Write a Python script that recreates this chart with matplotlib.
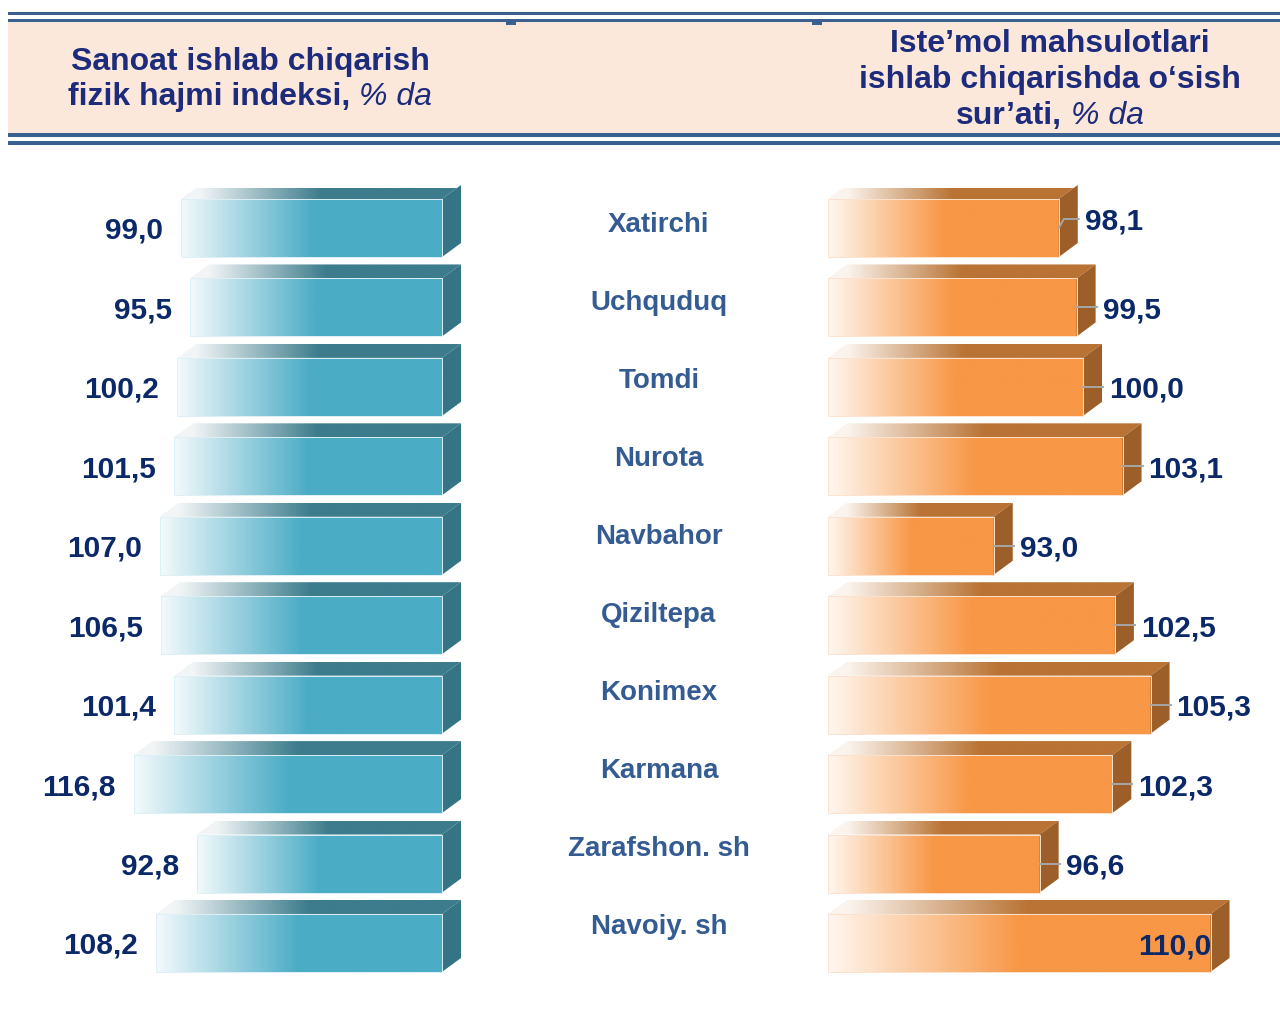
import numpy as np
import matplotlib
matplotlib.use("Agg")
import matplotlib.pyplot as plt
from matplotlib.transforms import IdentityTransform
from matplotlib.patches import Polygon, Rectangle
from matplotlib.colors import to_rgb
from matplotlib.lines import Line2D

# ---------------- data ----------------
categories = ["Xatirchi", "Uchquduq", "Tomdi", "Nurota", "Navbahor",
              "Qiziltepa", "Konimex", "Karmana", "Zarafshon. sh", "Navoiy. sh"]
industrial_index = [99.0, 95.5, 100.2, 101.5, 107.0, 106.5, 101.4, 116.8, 92.8, 108.2]
consumer_growth = [98.1, 99.5, 100.0, 103.1, 93.0, 102.5, 105.3, 102.3, 96.6, 110.0]
left_title = [("Sanoat ishlab chiqarish", ""), ("fizik hajmi indeksi,", "% da")]
right_title = [("Iste\u2019mol mahsulotlari", ""), ("ishlab chiqarishda o\u2018sish", ""),
               ("sur\u2019ati,", "% da")]
right_label_lift = [9, 0, 0, 0, 0, 0, 0, 0, 0, 0]   # px lift of first label (styling)

# ---------------- styling ----------------
W, H, DPI = 1280, 1009, 100
plt.rcParams["font.family"] = ["Liberation Sans", "DejaVu Sans"]
TITLE_C = "#1C2B7B"
VALUE_C = "#0B2868"
CAT_C = "#345C92"
BAND_C = "#FCE8DA"
LINE_C = "#3A6090"
BLUE = dict(front="#4BACC6", light="#F3FAFC", top="#3C7C8C", toplight="#F2F5F6", side="#357484", edge="#DDF0F5")
ORANGE = dict(front="#F89746", light="#FFF7F0", top="#B97334", toplight="#FBF4EE", side="#9D5F2A", edge="#FCE2CE")
DX, DY = 19, 14
BAR_H = 0.73
VAL_FS = 21.5

fig = plt.figure(figsize=(W / DPI, H / DPI), dpi=DPI)
fig.patch.set_facecolor("white")


def frac_rect(x0, y0, x1, y1):
    return [x0 / W, 1 - y1 / H, (x1 - x0) / W, (y1 - y0) / H]


# ---------------- header ----------------
hdr = fig.add_axes([0, 0, 1, 1], zorder=0)
hdr.set_xlim(0, W)
hdr.set_ylim(H, 0)
hdr.axis("off")
hdr.patch.set_visible(False)
hdr.add_patch(Rectangle((8, 22), W - 8, 111, facecolor=BAND_C, edgecolor="none"))
for (y0, hgt) in [(11.5, 3.5), (18.5, 3.5), (133, 4), (141, 3.5)]:
    hdr.add_patch(Rectangle((8, y0), W - 8, hgt, facecolor=LINE_C, edgecolor="none"))
for xm in (506, 812):
    hdr.add_patch(Rectangle((xm, 22), 10, 2.5, facecolor=LINE_C, edgecolor="none"))

renderer = fig.canvas.get_renderer()


def title_line(parts, cx, baseline, size=23):
    bold, ital = parts
    t1 = fig.text(0, H - baseline, bold, transform=IdentityTransform(), fontsize=size,
                  fontweight="bold", color=TITLE_C, va="baseline", ha="left")
    pieces = [t1]
    gap = 0.278 * size * DPI / 72.0
    if ital:
        t2 = fig.text(0, H - baseline, ital, transform=IdentityTransform(), fontsize=size,
                      fontweight="normal", fontstyle="italic", color=TITLE_C,
                      va="baseline", ha="left")
        pieces.append(t2)
    widths = [p.get_window_extent(renderer).width for p in pieces]
    total = sum(widths) + (gap if ital else 0)
    x = cx - total / 2
    for p, w in zip(pieces, widths):
        p.set_x(x)
        x += w + gap


for parts, base in zip(left_title, [70, 105]):
    title_line(parts, 250, base)
for parts, base in zip(right_title, [52, 88, 124]):
    title_line(parts, 1050, base)


# ---------------- bar helpers ----------------
def gradient_fill(ax, pts, x_start, x_full, color, light, zorder):
    pts = np.asarray(pts)
    ex0, ex1 = pts[:, 0].min(), pts[:, 0].max()
    ey0, ey1 = pts[:, 1].min(), pts[:, 1].max()
    xx = np.linspace(ex0, ex1, 400)
    t = np.clip((xx - x_start) / (x_full - x_start), 0, 1)
    c0, c1 = np.array(to_rgb(light)), np.array(to_rgb(color))
    rgb = c0[None, :] * (1 - t)[:, None] + c1[None, :] * t[:, None]
    img = rgb[None, :, :]
    poly = Polygon(pts, closed=True, transform=IdentityTransform())
    im = ax.imshow(img, extent=(ex0, ex1, ey0, ey1), transform=IdentityTransform(),
                   aspect="auto", interpolation="bilinear", origin="lower", zorder=zorder)
    im.set_clip_box(None)
    im.set_clip_path(poly)
    return im


def draw_3d(ax, patch, sty):
    x, y, w, h = patch.get_x(), patch.get_y(), patch.get_width(), patch.get_height()
    p = ax.transData.transform([(x, y), (x + w, y + h)])
    x0, x1 = sorted(p[:, 0])
    y0, y1 = sorted(p[:, 1])
    half = x0 + 0.5 * (x1 - x0)
    front = [(x0, y0), (x1, y0), (x1, y1), (x0, y1)]
    top = [(x0, y1), (x1, y1), (x1 + DX, y1 + DY), (x0 + DX, y1 + DY)]
    side = [(x1, y0), (x1, y1), (x1 + DX, y1 + DY), (x1 + DX, y0 + DY)]
    gradient_fill(ax, front, x0, half, sty["front"], sty["light"], 2)
    gradient_fill(ax, top, x0 + DX, half + DX * 0.5, sty["top"], sty["toplight"], 2)
    ax.add_patch(Polygon(side, closed=True, transform=IdentityTransform(),
                         facecolor=sty["side"], edgecolor="none", zorder=3, clip_on=False))
    ax.add_patch(Polygon(front, closed=True, transform=IdentityTransform(),
                         facecolor="none", edgecolor=sty["edge"], lw=0.7, zorder=3,
                         clip_on=False))
    return x0, x1, y0, y1


def fmt(v):
    return f"{v:.1f}".replace(".", ",")


rows = np.arange(len(categories))
top_px, bot_px = 228 - 79.44 / 2, 228 + 79.44 * 9.5

# ---------------- left panel ----------------
LS = 2.64
axL = fig.add_axes(frac_rect(0, top_px, 470, bot_px), zorder=1)
axL.set_xlim(442 / LS, -28 / LS)
axL.set_ylim(len(categories) - 0.5, -0.5)
axL.set_autoscale_on(False)
axL.axis("off")
axL.patch.set_visible(False)
barsL = axL.barh(rows, industrial_index, height=BAR_H, left=0, color="none", edgecolor="none")
for bar, v in zip(barsL, industrial_index):
    x0, x1, y0, y1 = draw_3d(axL, bar, BLUE)
    fig.text(x0 - 18, (y0 + y1) / 2 - 3, fmt(v), transform=IdentityTransform(),
             fontsize=VAL_FS, fontweight="bold", color=VALUE_C, ha="right", va="center")

# ---------------- right panel ----------------
RS = 12.75
BASE = 80
axR = fig.add_axes(frac_rect(800, top_px, 1280, bot_px), zorder=1)
axR.set_xlim(BASE - 28 / RS, BASE + 452 / RS)
axR.set_ylim(len(categories) - 0.5, -0.5)
axR.set_autoscale_on(False)
axR.axis("off")
axR.patch.set_visible(False)
barsR = axR.barh(rows, np.array(consumer_growth) - BASE, height=BAR_H, left=BASE,
                 color="none", edgecolor="none")
for bar, v, lift in zip(barsR, consumer_growth, right_label_lift):
    x0, x1, y0, y1 = draw_3d(axR, bar, ORANGE)
    yc = (y0 + y1) / 2
    t = fig.text(0, 0, fmt(v), transform=IdentityTransform(), fontsize=VAL_FS,
                 fontweight="bold", color=VALUE_C, ha="left", va="center")
    tw = t.get_window_extent(renderer).width
    tx = x1 + DX + 7
    if tx + tw > W - 4:
        t.set_ha("right")
        t.set_position((x1 + 1, yc - 4))
    else:
        ty = yc + lift
        t.set_position((tx, ty - 3))
        xs = [x1, x1 + (5 if lift else 0), tx - 6]
        ys = [yc, ty, ty]
        fig.add_artist(Line2D(xs, ys, transform=IdentityTransform(), color="#A6A6A6",
                              lw=1.4, zorder=5))

# ---------------- category labels ----------------
fit0, fitstep = 222.0, 78.0
axM = fig.add_axes(frac_rect(470, fit0 - fitstep / 2, 848, fit0 + fitstep * 9.5), zorder=1)
axM.set_xlim(0, 1)
axM.set_ylim(len(categories) - 0.5, -0.5)
axM.axis("off")
axM.patch.set_visible(False)
for i, c in zip(rows, categories):
    axM.text(0.5, i, c, fontsize=20, fontweight="bold", color=CAT_C, ha="center",
             va="center_baseline")

fig.savefig("out.png", dpi=DPI, facecolor="white")
